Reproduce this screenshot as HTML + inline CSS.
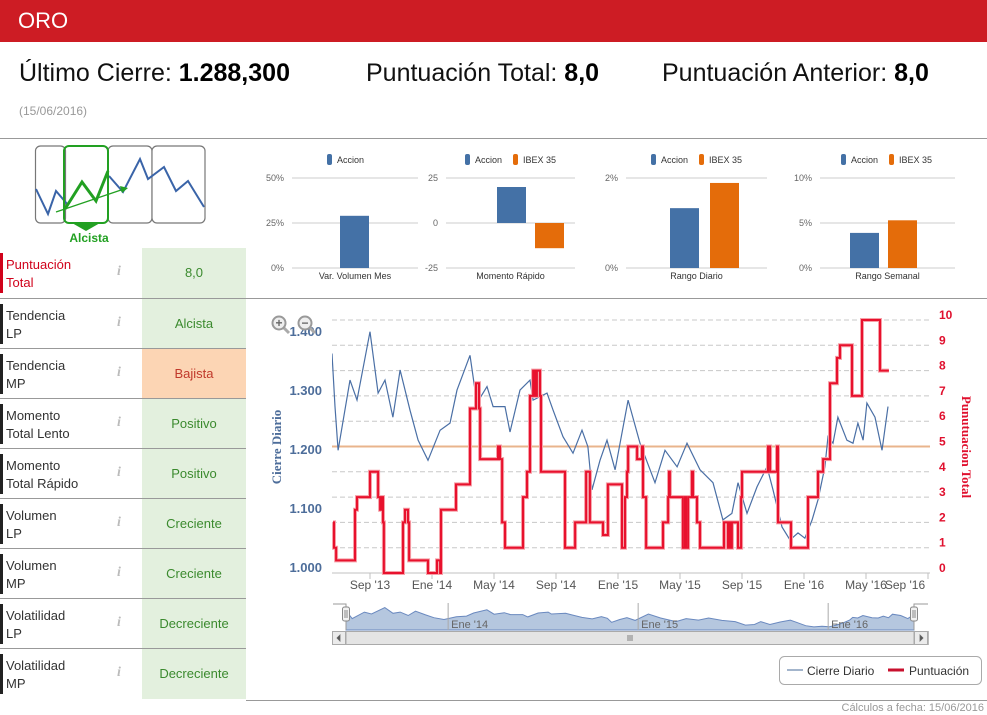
<!DOCTYPE html>
<html><head><meta charset="utf-8"><style>
body{margin:0;width:987px;height:715px;overflow:hidden;background:#fff;font-family:"Liberation Sans",sans-serif;position:relative}
.a{position:absolute}
.hdr{left:0;top:0;width:987px;height:42px;background:#cd1c24;color:#fff;font-size:22px;line-height:42px;text-indent:18px}
.big{font-size:25px;color:#111;top:59px}
.big b{color:#000}
.row{left:0;width:246px;height:50px;border-top:1px solid #999}
.row .bar{position:absolute;left:0;top:5px;width:3px;height:40px;background:#222}
.row .lab{position:absolute;left:6px;top:8px;font-size:13px;line-height:18px;color:#333}
.row .inf{position:absolute;left:117px;top:16px;font-size:14px;font-style:italic;font-family:"Liberation Serif",serif;color:#bbb;font-weight:bold}
.row .val{position:absolute;left:142px;top:0;width:104px;height:50px;line-height:50px;text-align:center;font-size:13px;color:#3b8a2e;background:#e3f0de}
</style></head><body>
<div class="a hdr">ORO</div>
<div class="a big" style="left:19px">Último Cierre: <b>1.288,300</b></div>
<div class="a big" style="left:366px">Puntuación Total: <b>8,0</b></div>
<div class="a big" style="left:662px">Puntuación Anterior: <b>8,0</b></div>
<div class="a" style="left:19px;top:104px;font-size:12px;color:#999">(15/06/2016)</div>
<div class="a" style="left:0;top:138px;width:987px;height:1px;background:#999"></div>

<svg class="a" style="left:0;top:139px" width="250" height="110">
<g fill="#fff" stroke="#777" stroke-width="1.2">
<rect x="35.5" y="7" width="30" height="77" rx="5"/><rect x="108" y="7" width="44" height="77" rx="5"/><rect x="152" y="7" width="53" height="77" rx="5"/></g>
<polyline points="36,50 48,75 56,52 68,66" fill="none" stroke="#3a64a8" stroke-width="2"/>
<polyline points="109,37 123,53 140,20 148,40 164,28 176,52 188,42 204,68" fill="none" stroke="#3a64a8" stroke-width="2"/>
<rect x="64" y="7" width="44" height="77" rx="5" fill="none" stroke="#22a022" stroke-width="2"/>
<polygon points="72,84 100,84 86,92" fill="#22a022"/>
<polyline points="65,70 82,43 96,62 108,32" fill="none" stroke="#22a022" stroke-width="3"/>
<line x1="56" y1="73" x2="124" y2="50" stroke="#22a022" stroke-width="1.3"/><polygon points="128,49 120,47 122,54" fill="#22a022"/>
<text x="89" y="103" font-size="12" font-weight="bold" fill="#22a022" text-anchor="middle">Alcista</text>
</svg>

<div class="a row" style="top:248px;border-top:none"><div class="bar" style="background:#d0021b"></div><div class="lab" style="color:#d0021b">Puntuación<br>Total</div><div class="inf">i</div><div class="val">8,0</div></div>
<div class="a row" style="top:298px"><div class="bar"></div><div class="lab">Tendencia<br>LP</div><div class="inf">i</div><div class="val">Alcista</div></div>
<div class="a row" style="top:348px"><div class="bar"></div><div class="lab">Tendencia<br>MP</div><div class="inf">i</div><div class="val" style="background:#fcd5b4;color:#c0392b">Bajista</div></div>
<div class="a row" style="top:398px"><div class="bar"></div><div class="lab">Momento<br>Total Lento</div><div class="inf">i</div><div class="val">Positivo</div></div>
<div class="a row" style="top:448px"><div class="bar"></div><div class="lab">Momento<br>Total Rápido</div><div class="inf">i</div><div class="val">Positivo</div></div>
<div class="a row" style="top:498px"><div class="bar"></div><div class="lab">Volumen<br>LP</div><div class="inf">i</div><div class="val">Creciente</div></div>
<div class="a row" style="top:548px"><div class="bar"></div><div class="lab">Volumen<br>MP</div><div class="inf">i</div><div class="val">Creciente</div></div>
<div class="a row" style="top:598px"><div class="bar"></div><div class="lab">Volatilidad<br>LP</div><div class="inf">i</div><div class="val">Decreciente</div></div>
<div class="a row" style="top:648px"><div class="bar"></div><div class="lab">Volatilidad<br>MP</div><div class="inf">i</div><div class="val">Decreciente</div></div>
<div class="a" style="left:246px;top:298px;width:741px;height:1px;background:#999"></div>
<div class="a" style="left:246px;top:700px;width:741px;height:1px;background:#999"></div>
<div class="a" style="right:3px;top:702px;font-size:11px;color:#999">Cálculos a fecha: 15/06/2016</div>

<svg class="a" id="mini" style="left:250px;top:140px" width="737" height="150"></svg>
<svg class="a" id="main" style="left:0;top:0" width="987" height="715"></svg>

<script>
// ---- mini bar charts data ----
const miniTitles=["Var. Volumen Mes","Momento Rápido","Rango Diario","Rango Semanal"];
const miniAccion=[29,20,1.33,3.9];
const miniIbex=[null,-14,1.89,5.3];
const miniMin=[0,-25,0,0];
const miniMax=[50,25,2,10];
const miniTicks=[["0%","25%","50%"],["-25","0","25"],["0%","2%"],["0%","5%","10%"]];
// ---- main chart data ----
const closeMonths=[5.55,5.74,5.94,6.71,7.16,8,8.52,8.97,9.48,9.94,10.58,11.1,11.74,12.52,13.16,13.61,14.45,14.9,15.55,15.94,16.71,17.03,17.68,18.32,18.52,19.42,19.81,20.45,21.1,21.68,22.06,22.32,22.84,23.29,23.81,24.65,25.42,26.39,27.03,27.81,28.45,29.29,30.13,30.77,31.35,31.74,32.32,32.97,33.61,34,34.58,35.1,35.61,36.06,36.52,36.9,37.35,37.55,37.87,38.19,38.77,39.16,39.48,39.81,40.06,40.58,41.03,41.42];
const closeValues=[1.372,1.282,1.208,1.327,1.293,1.409,1.305,1.327,1.264,1.344,1.276,1.225,1.191,1.242,1.254,1.31,1.369,1.288,1.316,1.282,1.282,1.239,1.31,1.327,1.293,1.305,1.276,1.231,1.203,1.242,1.214,1.141,1.191,1.225,1.175,1.293,1.22,1.153,1.208,1.18,1.22,1.175,1.153,1.09,1.101,1.153,1.101,1.146,1.18,1.141,1.078,1.056,1.068,1.059,1.09,1.124,1.18,1.231,1.22,1.264,1.225,1.22,1.254,1.225,1.288,1.264,1.208,1.282];
const scoreMonths=[5.61,5.68,5.81,7.03,7.16,8,8.52,8.65,8.77,8.84,8.9,10.13,10.26,10.45,10.52,11.74,12.32,12.52,12.58,13.55,14.45,14.84,15.03,15.1,16.26,16.39,16.52,16.71,17.87,18.13,18.32,18.52,18.65,18.77,18.97,19.03,20.58,21.23,21.94,22.19,23.03,23.35,24.26,24.45,24.58,24.65,25.23,25.55,25.61,25.81,26.9,27.23,27.29,27.35,28.19,28.32,28.39,28.52,28.77,28.84,29.1,29.29,30.84,31.1,31.16,31.29,31.35,31.74,31.94,32,33.68,33.81,34.26,34.32,35.16,36.26,36.9,37.23,37.68,38.13,38.32,39.1,39.74,40.9];
const scoreValues=[2,1,0.5,2.5,3,4,3,2.5,3,2,0,2,2.5,2,0.5,0,0.5,0,2.5,3.5,6.5,7.5,6.5,4.5,5,4.5,2,1,3,4,7,8,7,8,7,4,1,2,4,2,1.5,3.5,1,3,4,5,4.5,5,3,1,2,3,4,3,1,3,1,3,4,3,2,1,2,1,2,1,2,1,3,4,5,4,5,2,1,3,4,4.5,7.5,8.5,9,7,10,8];
const scoreEnd=41.48;
const leftTicks=[1.0,1.1,1.2,1.3,1.4];
const leftTickLabels=["1.000","1.100","1.200","1.300","1.400"];
const rightTicks=[0,1,2,3,4,5,6,7,8,9,10];
const xTickMonths=[8,12,16,20,24,28,32,36,40,44];
const xTickLabels=["Sep '13","Ene '14","May '14","Sep '14","Ene '15","May '15","Sep '15","Ene '16","May '16","Sep '16"];
const plotLineValue=5;
const navTickMonths=[12,24,36];
const navTickLabels=["Ene '14","Ene '15","Ene '16"];

const NS="http://www.w3.org/2000/svg";
function mk(p,t,a,txt){const e=document.createElementNS(NS,t);for(const k in a)e.setAttribute(k,a[k]);if(txt!=null)e.textContent=txt;p.appendChild(e);return e;}

// mini charts (layout)
const mini=document.getElementById('mini');
const mLeft=[42,196,376,570],mW=[126,129,141,135];
const barX1=[90,247,420,600],barX2=[0,285,460,638];
const legX=[77,215,401,591];
const BLUE="#4471a6",ORG="#e46c0a";
miniTitles.forEach((t,i)=>{
  const x0=mLeft[i],w=mW[i];
  const y=v=>128-(v-miniMin[i])/(miniMax[i]-miniMin[i])*90;
  const g=mk(mini,'g',{});
  
  
  const n=miniTicks[i].length;
  miniTicks[i].forEach((lab,k)=>{
    const yy2=128-k*90/(n-1);
    mk(g,'line',{x1:x0,x2:x0+w,y1:yy2,y2:yy2,stroke:'#ccc'});
    const tx=mk(g,'text',{x:x0-8,y:yy2+3,'font-size':9,fill:'#666','text-anchor':'end'},lab);
    
    
  });
  const two=miniIbex[i]!==null;
  const bw=29;
  const cx=x0+w/2;
  const zero=y(Math.max(0,miniMin[i]));
  const v1=miniAccion[i];
  const b1=mk(g,'rect',{x:barX1[i],y:Math.min(y(v1),zero),width:bw,height:Math.abs(y(v1)-zero),fill:BLUE});
  
  
  if(two){const v2=miniIbex[i];
    const b2=mk(g,'rect',{x:barX2[i],y:Math.min(y(v2),zero),width:bw,height:Math.abs(y(v2)-zero),fill:ORG});
    
    
  }
  const ct=mk(g,'text',{x:cx,y:139,'font-size':9,fill:'#333','text-anchor':'middle'},t);
  
  
  const lx=legX[i];
  mk(g,'rect',{x:lx,y:14,width:5,height:11,rx:2,fill:BLUE});
  mk(g,'text',{x:lx+10,y:23,'font-size':9,fill:'#333'},'Accion');
  if(two){mk(g,'rect',{x:lx+48,y:14,width:5,height:11,rx:2,fill:ORG});mk(g,'text',{x:lx+58,y:23,'font-size':9,fill:'#333'},'IBEX 35');}
});

// main chart
const S=document.getElementById('main');
const X=m=>370+(m-8)*15.5;
const YL=v=>573-(v-1)*590;
const YR=v=>573-v*25.3;
for(let k=1;k<=10;k++){const yy=YR(k);mk(S,'line',{x1:332,x2:930,y1:yy,y2:yy,stroke:'#c8c8c8','stroke-dasharray':'5,3'});}
mk(S,'line',{x1:332,x2:930,y1:573,y2:573,stroke:'#c0c0c0'});
leftTicks.forEach((v,i)=>{const t=mk(S,'text',{x:322,y:YL(v)-1,'font-size':13,'font-weight':'bold',fill:'#4d6d9a','text-anchor':'end'},leftTickLabels[i]);
  });
rightTicks.forEach(v=>{const t=mk(S,'text',{x:939,y:YR(v)-1,'font-size':12,'font-weight':'bold',fill:'#e0102e'},String(v));
  });
xTickMonths.forEach((m,i)=>{const xx=X(m);
  if(xx<=930)mk(S,'line',{x1:xx,x2:xx,y1:573,y2:579,stroke:'#c0c0c0'});
  const t=mk(S,'text',{x:i==9?905:xx,y:589,'font-size':12,fill:'#555','text-anchor':'middle'},xTickLabels[i]);
  });
const yt=mk(S,'text',{transform:'translate(281,447) rotate(-90)','font-size':13,'font-weight':'bold','font-family':'Liberation Serif,serif',fill:'#4d6d9a','text-anchor':'middle'},'Cierre Diario');

const yt2=mk(S,'text',{transform:'translate(962,447) rotate(90)','font-size':13,'font-weight':'bold','font-family':'Liberation Serif,serif',fill:'#e0102e','text-anchor':'middle'},'Punutuacion Total');

mk(S,'defs',{}).innerHTML='<clipPath id="pc"><rect x="332" y="305" width="598" height="270"/></clipPath>';
const pl=mk(S,'line',{x1:332,x2:930,y1:YR(plotLineValue),y2:YR(plotLineValue),stroke:'#e9b48c','stroke-width':2});

let d='';closeMonths.forEach((m,i)=>{d+=(i?'L':'M')+X(m).toFixed(1)+','+YL(closeValues[i]).toFixed(1);});
const bl=mk(S,'path',{d:d,fill:'none',stroke:'#4a6fa5','stroke-width':1.2,'clip-path':'url(#pc)'});

let r='';scoreMonths.forEach((m,i)=>{const xx=X(m).toFixed(1),yy=YR(scoreValues[i]).toFixed(1);
  if(i==0)r+='M'+xx+','+yy;else r+='H'+xx+'V'+yy;});
r+='H'+X(scoreEnd).toFixed(1);
mk(S,'path',{d:r,fill:'none',stroke:'#f6a0a8','stroke-width':4,'clip-path':'url(#pc)'});
const rl=mk(S,'path',{d:r,fill:'none',stroke:'#e8112d','stroke-width':2,'clip-path':'url(#pc)'});

[[279,'+'],[305,'−']].forEach(([x,s],i)=>{const g=mk(S,'g',{});
  
  mk(g,'line',{x1:x+4,y1:327,x2:x+10,y2:333,stroke:'#aaa','stroke-width':3});
  mk(g,'circle',{cx:x,cy:323,r:6.5,fill:'#eee',stroke:'#999','stroke-width':2});
  mk(g,'text',{x:x,y:327,'font-size':12,'font-weight':'bold',fill:'#666','text-anchor':'middle'},s);});
// navigator
const m0=closeMonths[0],m1=closeMonths[closeMonths.length-1];
const NX=m=>346+(m-m0)/(m1-m0)*568;
const NY=v=>630-(v-1.0)/0.42*23;
let nd='M346,630';closeMonths.forEach((m,i)=>{nd+='L'+NX(m).toFixed(1)+','+NY(closeValues[i]).toFixed(1);});nd+='L914,630Z';
mk(S,'rect',{x:332,y:603,width:596,height:28,fill:'#fff'});
const na=mk(S,'path',{d:nd,fill:'#b5c7df',stroke:'#6a89bf','stroke-width':1});

navTickMonths.forEach((m,i)=>{const xx=NX(m);mk(S,'line',{x1:xx,x2:xx,y1:603,y2:630,stroke:'#aaa'});
  const t=mk(S,'text',{x:xx+3,y:628,'font-size':11,fill:'#666'},navTickLabels[i]);
  });
mk(S,'path',{d:'M333,604H346V630M914,630V604H928',fill:'none',stroke:'#999'});
[346,914].forEach((x,i)=>{const h=mk(S,'rect',{x:x-3.5,y:607,width:7,height:14,rx:2,fill:'#f2f2f2',stroke:'#888'});
  
  mk(S,'line',{x1:x-1,x2:x-1,y1:610,y2:618,stroke:'#888'});mk(S,'line',{x1:x+1,x2:x+1,y1:610,y2:618,stroke:'#888'});});
const sb=mk(S,'rect',{x:332.5,y:631.5,width:596,height:13,fill:'#eee',stroke:'#bbb'});

mk(S,'rect',{x:346,y:631.5,width:568,height:13,fill:'#e4e4e4',stroke:'#aaa'});
mk(S,'rect',{x:332.5,y:631.5,width:13,height:13,fill:'#ebebeb',stroke:'#aaa'});
mk(S,'rect',{x:914.5,y:631.5,width:13,height:13,fill:'#ebebeb',stroke:'#aaa'});
mk(S,'path',{d:'M340,635L337,638L340,641Z M920,635L923,638L920,641Z M628,635V641M630,635V641M632,635V641',fill:'#555',stroke:'#666','stroke-width':0.8});
const lg=mk(S,'g',{});
mk(lg,'rect',{x:779.5,y:656.5,width:202,height:28,rx:5,fill:'#fff',stroke:'#aaa'});
const le1=mk(lg,'g',{});
mk(le1,'line',{x1:787,x2:803,y1:670,y2:670,stroke:'#a3b5cc','stroke-width':2});
mk(le1,'text',{x:807,y:675,'font-size':12,fill:'#333'},'Cierre Diario');
const le2=mk(lg,'g',{});
mk(le2,'line',{x1:888,x2:904,y1:670,y2:670,stroke:'#c8102e','stroke-width':3});
mk(le2,'text',{x:909,y:675,'font-size':12,fill:'#333'},'Puntuación');
</script>
</body></html>
